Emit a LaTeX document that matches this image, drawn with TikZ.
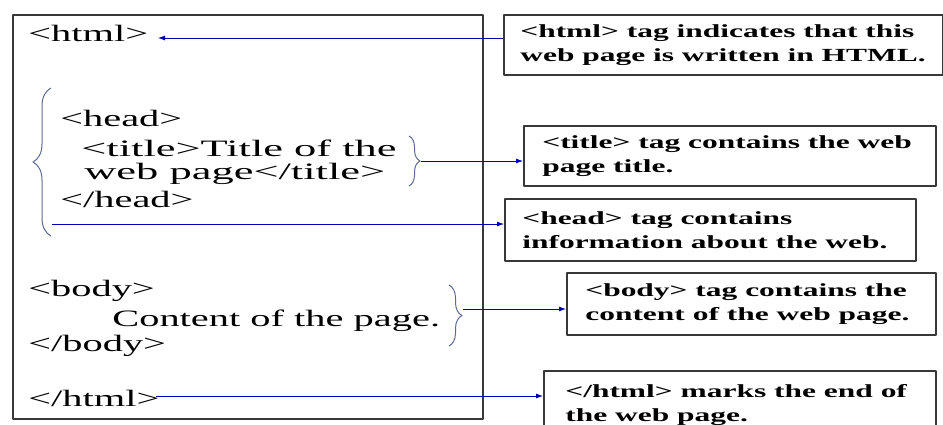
\documentclass[tikz,border=0pt]{standalone}
\usepackage{fontspec}
\setmainfont{Liberation Serif}
\usetikzlibrary{arrows.meta,decorations.pathreplacing}

\begin{document}
\begin{tikzpicture}[
    x = 1pt, y = -1pt,
    line join=round,
    code/.style = {anchor=base west, inner sep=0pt, xscale=1.72, font=\fontsize{23.5}{28}\selectfont},
    wide/.style = {code, xscale=1.1},
    note/.style = {anchor=west, inner sep=0pt, xscale=1.7, align=left, font=\fontsize{18.5}{24}\selectfont\bfseries},
    tagbox/.style = {draw=black!78, line width=1.5pt, anchor=north west, inner sep=0pt},
    conn/.style = {-{Latex[length=7pt,width=5pt]}, blue!70!black, line width=0.8pt},
    brc/.style = {decorate, decoration={brace, amplitude=#1}, draw={rgb,255:red,95;green,105;blue,150}, line width=1pt}
]
    \useasboundingbox (0,0) rectangle (943,424);

    % the page source
    \node[tagbox, minimum width=470, minimum height=404] (page) at (12,14) {};

    \node[code] (html)  at (28,41)   {<html>};
    \node[code] (head)  at (60,126)  {<head>};
    \node[wide] (ttl1)  at (81,156)  {<title>Title of the};
    \node[wide] (ttl2)  at (84,179)  {web page</title>};
    \node[code] (ehead) at (60,207)  {</head>};
    \node[code] (body)  at (28,296)  {<body>};
    \node[code] (cont)  at (112,326) {Content of the page.};
    \node[code] (ebody) at (28,351)  {</body>};
    \node[code] (ehtml) at (28,406)  {</html>};

    \draw[brc=18] (51,236) -- (51,88);
    \draw[brc=11] (409,136) -- (409,186);
    \draw[brc=13] (449,285) -- (449,346);

    % the notes
    \node[tagbox, minimum width=439, minimum height=60] (b1) at (503,14) {};
    \node[tagbox, minimum width=412, minimum height=60] (b2) at (523,125) {};
    \node[tagbox, minimum width=411, minimum height=62] (b3) at (504,198) {};
    \node[tagbox, minimum width=369, minimum height=62] (b4) at (566,272) {};
    \node[tagbox, minimum width=392, minimum height=62] (b5) at (543,370) {};

    \node[note] (n1) at ([xshift=17pt]b1.west) {<html> tag indicates that this\\web page is written in HTML.};
    \node[note] (n2) at ([xshift=19pt]b2.west) {<title> tag contains the web\\page title.};
    \node[note] (n3) at ([xshift=18pt]b3.west) {<head> tag contains\\information about the web.};
    \node[note] (n4) at ([xshift=19pt]b4.west) {<body> tag contains the\\content of the web page.};
    \node[note] (n5) at ([xshift=22pt,yshift=-3pt]b5.west) {</html> marks the end of\\the web page.};

    \coordinate (ht) at (158,38);
    \coordinate (tb) at (421,161);
    \coordinate (hl) at (52,224);
    \coordinate (bb) at (463,309);
    \coordinate (eh) at (156,396);

    \draw[conn] (b1.west |- ht) -- (ht);
    \draw[conn] (tb) -- (tb -| b2.west);
    \draw[conn] (hl) -- (hl -| b3.west);
    \draw[conn] (bb) -- (bb -| b4.west);
    \draw[conn] (eh) -- (eh -| b5.west);

\end{tikzpicture}
\end{document}
